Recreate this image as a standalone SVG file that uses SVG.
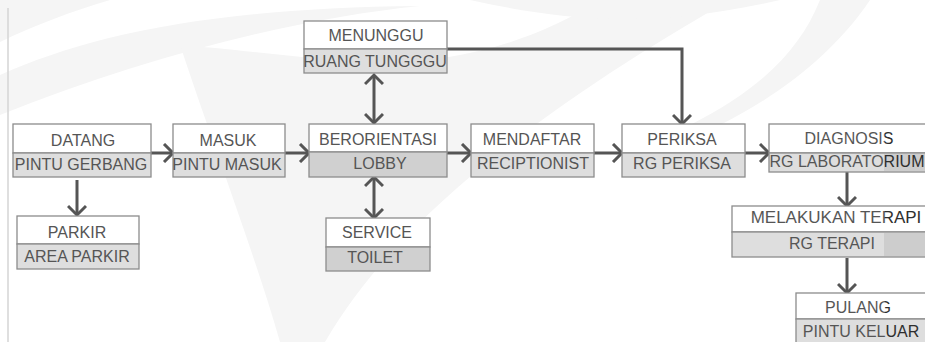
<svg xmlns="http://www.w3.org/2000/svg" width="925" height="342" viewBox="0 0 925 342">
  <style>
    .top { fill: #ffffff; stroke: #8c8c8c; stroke-width: 1.3; }
    .bot { fill: #dedede; stroke: #8c8c8c; stroke-width: 1.3; }
    .botd { fill: #d0d0d0; stroke: #8c8c8c; stroke-width: 1.3; }
    .shade { fill: #cdcdcd; }
    text { font-family: "Liberation Sans", Arial, sans-serif; font-size: 16px; fill: #555555; text-anchor: middle; }
    text.r { fill: url(#tg); }
    .conn { fill: none; stroke: #555555; stroke-width: 3; }
    .wm { fill: #f5f5f5; }
  </style>
  <defs>
    <marker id="ah" markerUnits="userSpaceOnUse" viewBox="0 0 20 20" markerWidth="20" markerHeight="20" refX="11" refY="10" orient="auto-start-reverse">
      <path d="M2,1 L11,10 L2,19" fill="none" stroke="#555555" stroke-width="3"/>
    </marker>
    <linearGradient id="tg" gradientUnits="userSpaceOnUse" x1="0" y1="0" x2="925" y2="0">
      <stop offset="0.957" stop-color="#555555"/>
      <stop offset="0.957" stop-color="#2e2e2e"/>
    </linearGradient>
  </defs>

  <rect width="925" height="342" fill="#ffffff"/>
  <g id="watermark">
    <path class="wm" d="M0,0 H110 C70,12 35,25 0,42 Z"/>
    <path class="wm" d="M0,75 C90,35 210,8 420,6 C300,18 150,55 0,115 Z"/>
    <path class="wm" d="M180,45 C215,150 255,255 280,342 H325 C390,230 520,120 730,0 H600 C520,50 430,70 330,60 C280,55 220,48 180,45 Z"/>
    <path class="wm" d="M470,0 C560,20 650,30 780,0 Z"/>
    <path class="wm" d="M820,0 C800,50 760,90 690,125 L720,125 C790,90 840,45 870,0 Z"/>
  </g>
  <line x1="8" y1="8" x2="8" y2="342" stroke="#d4d4d4" stroke-width="1.5"/>

  <g id="connectors">
    <path class="conn" d="M151,153 H173" marker-end="url(#ah)"/>
    <path class="conn" d="M285,153 H309" marker-end="url(#ah)"/>
    <path class="conn" d="M447,153 H471" marker-end="url(#ah)"/>
    <path class="conn" d="M594,153 H622" marker-end="url(#ah)"/>
    <path class="conn" d="M745,153 H769" marker-end="url(#ah)"/>
    <path class="conn" d="M77,180 V215" marker-end="url(#ah)"/>
    <path class="conn" d="M374,75 V123" marker-start="url(#ah)" marker-end="url(#ah)"/>
    <path class="conn" d="M374,177 V218" marker-start="url(#ah)" marker-end="url(#ah)"/>
    <path class="conn" d="M447,49 H682 V124" marker-end="url(#ah)"/>
    <path class="conn" d="M847,172 V206" marker-end="url(#ah)"/>
    <path class="conn" d="M847,258 V293" marker-end="url(#ah)"/>
  </g>

  <g id="datang">
    <rect class="top" x="13" y="124" width="138" height="29"/>
    <rect class="bot" x="13" y="153" width="138" height="24"/>
    <text x="83" y="146">DATANG</text>
    <text x="81" y="170">PINTU GERBANG</text>
  </g>
  <g id="masuk">
    <rect class="top" x="173" y="124" width="112" height="29"/>
    <rect class="bot" x="173" y="153" width="112" height="24"/>
    <text x="228" y="146">MASUK</text>
    <text x="227" y="170">PINTU MASUK</text>
  </g>
  <g id="parkir">
    <rect class="top" x="17" y="216" width="122" height="28"/>
    <rect class="bot" x="17" y="244" width="122" height="25"/>
    <text x="77" y="238">PARKIR</text>
    <text x="77" y="262">AREA PARKIR</text>
  </g>
  <g id="menunggu">
    <rect class="top" x="304" y="21" width="143" height="28"/>
    <rect class="bot" x="304" y="49" width="143" height="24"/>
    <text x="376" y="41">MENUNGGU</text>
    <text x="375" y="67">RUANG TUNGGGU</text>
  </g>
  <g id="berorientasi">
    <rect class="top" x="309" y="124" width="138" height="28"/>
    <rect class="botd" x="309" y="152" width="138" height="25"/>
    <text x="378" y="145">BERORIENTASI</text>
    <text x="380" y="169">LOBBY</text>
  </g>
  <g id="service">
    <rect class="top" x="326" y="218" width="104" height="29"/>
    <rect class="botd" x="326" y="247" width="104" height="24"/>
    <text x="377" y="238">SERVICE</text>
    <text x="375" y="263">TOILET</text>
  </g>
  <g id="mendaftar">
    <rect class="top" x="471" y="124" width="123" height="29"/>
    <rect class="bot" x="471" y="153" width="123" height="24"/>
    <text x="532" y="145">MENDAFTAR</text>
    <text x="533" y="169">RECIPTIONIST</text>
  </g>
  <g id="periksa">
    <rect class="top" x="622" y="124" width="123" height="29"/>
    <rect class="bot" x="622" y="153" width="123" height="24"/>
    <text x="682" y="145">PERIKSA</text>
    <text x="682" y="169">RG PERIKSA</text>
  </g>
  <g id="diagnosis">
    <rect class="top" x="769" y="124" width="160" height="29"/>
    <rect class="bot" x="769" y="153" width="160" height="19"/>
    <rect class="shade" x="884" y="154" width="41" height="17"/>
    <text class="r" x="849" y="144">DIAGNOSIS</text>
    <text class="r" x="847" y="167">RG LABORATORIUM</text>
  </g>
  <g id="melakukan-terapi">
    <rect class="top" x="732" y="206" width="197" height="26"/>
    <rect class="bot" x="732" y="232" width="197" height="25"/>
    <rect class="shade" x="884" y="233" width="41" height="23"/>
    <text class="r" x="836" y="223" style="font-size:17px">MELAKUKAN TERAPI</text>
    <text class="r" x="832" y="249">RG TERAPI</text>
  </g>
  <g id="pulang">
    <rect class="top" x="796" y="293" width="133" height="26"/>
    <rect class="bot" x="796" y="319" width="133" height="30"/>
    <text class="r" x="858" y="313">PULANG</text>
    <text class="r" x="861" y="337">PINTU KELUAR</text>
  </g>
</svg>
